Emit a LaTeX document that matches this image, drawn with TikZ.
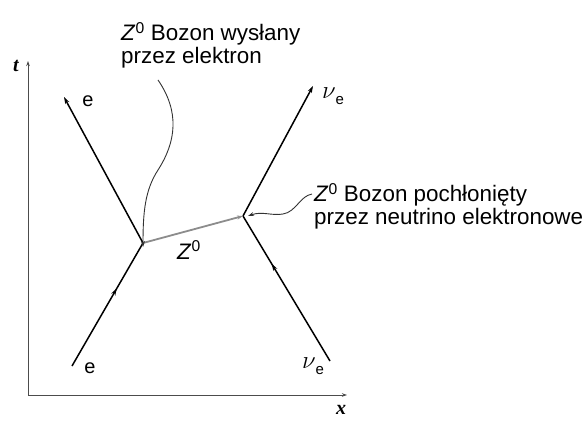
\documentclass[tikz,border=0pt]{standalone}
\usepackage{fontspec}
\setmainfont{Liberation Sans}
\newfontfamily\serifit{Liberation Serif}
\usetikzlibrary{arrows.meta,decorations.markings}
\begin{document}
\begin{tikzpicture}[x=1pt,y=-1pt,
  lab/.style={font=\fontsize{22.4}{23}\selectfont, inner sep=0pt, align=left},
  small/.style={font=\fontsize{20}{22}\selectfont, inner sep=0pt},
  world/.style={line width=1.5pt, black},
  axisline/.style={line width=0.9pt, black!70},
  tipA/.style={-{Stealth[length=7pt,width=4.5pt]}},
  midarrow/.style={postaction={decorate},decoration={markings,mark=at position #1 with {\arrow{Stealth[length=7pt,width=4.5pt]}}}},
  pointer/.style={line width=0.9pt, black!80, -{Stealth[length=6pt,width=4pt]}},
]
\useasboundingbox (0,0) rectangle (585,430);
% axes
\coordinate (O) at (28,395);
\coordinate (T) at (28,61);
\coordinate (X) at (347,395);
\draw[axisline, -{Stealth[length=5pt,width=3.5pt]}] (O) -- (T);
\draw[axisline, -{Stealth[length=5pt,width=3.5pt]}] (O) -- (X);
\node[small] (tlab) at (16,66) {\serifit\bfseries\itshape t};
\node[small] (xlab) at (341,410) {\serifit\bfseries\itshape x};
% electron
\coordinate (eIn) at (72,366);
\coordinate (A) at (143,243);
\coordinate (eOut) at (64,97);
\draw[world, midarrow=0.63] (eIn) -- (A);
\draw[world, tipA] (A) -- (eOut);
\node[small] (eTop) at (88,101) {e};
\node[small] (eBot) at (90,368) {e};
% neutrino
\coordinate (nIn) at (330,361);
\coordinate (B) at (243,216);
\coordinate (nOut) at (313,86);
\draw[world, midarrow=0.67] (nIn) -- (B);
\draw[world, tipA] (B) -- (nOut);
\node[small] (nuTop) at (333,96) {\fontsize{24}{24}\selectfont$\nu$\raisebox{-0.45ex}{\fontsize{15}{15}\selectfont e}};
\node[small] (nuBot) at (313,366) {\fontsize{24}{24}\selectfont$\nu$\raisebox{-0.45ex}{\fontsize{15}{15}\selectfont e}};
% Z boson
\draw[line width=1.8pt, black!45, -{Stealth[length=6pt,width=4pt]}] (A) -- (B);
\node[lab] (zlab) at (189,250) {\textit{Z}\textsuperscript{0}};
% annotations
\node[lab, anchor=north west] (emit) at (121,22) {\textit{Z}\textsuperscript{0} Bozon wysłany\\przez elektron};
\node[lab, anchor=north west] (absorb) at (314,183) {\textit{Z}\textsuperscript{0} Bozon pochłonięty\\przez neutrino elektronowe};
\coordinate (emitEnd) at (158,80);
\coordinate (absEnd) at (312,194);
\draw[pointer] (emitEnd) .. controls (180,112) and (176,142) .. (158,170) .. controls (145,190) and (143,212) .. ([yshift=-4pt]A);
\draw[pointer] (absEnd) .. controls (300,196) and (296,212) .. (283,214) .. controls (272,216) and (262,211) .. ([xshift=5pt]B);
\end{tikzpicture}
\end{document}
